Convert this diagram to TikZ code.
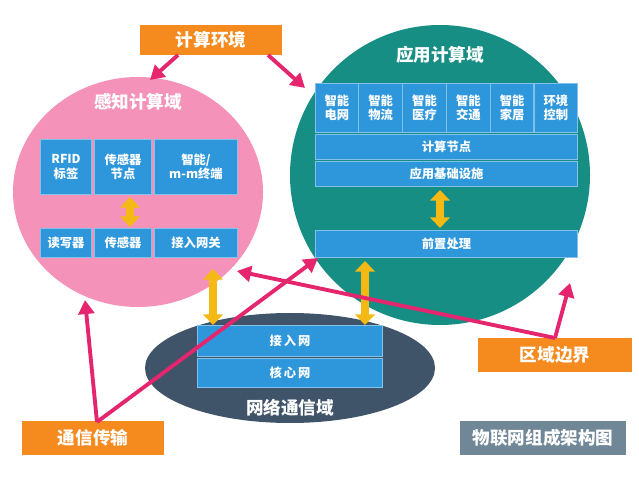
\documentclass[tikz,border=0pt]{standalone}
\usepackage{fontspec}
\setmainfont{Noto Sans CJK SC}
\usetikzlibrary{arrows.meta}
\definecolor{pinkc}{HTML}{F492B9}
\definecolor{tealc}{HTML}{178E84}
\definecolor{slatec}{HTML}{3F5369}
\definecolor{bluec}{HTML}{2E97DB}
\definecolor{orangec}{HTML}{F58A1F}
\definecolor{grayc}{HTML}{6F8796}
\definecolor{arrowc}{HTML}{E5266E}
\definecolor{yellowc}{HTML}{F5B915}
\tikzset{
 wd/.style={minimum width=#1*0.5669pt},
 ht/.style={minimum height=#1*0.5669pt},
 bx/.style={draw=bluec!60!white, line width=0.6pt, fill=bluec, text=white, font=\bfseries\fontsize{7}{8}\selectfont, align=center, inner sep=0pt},
 lbl/.style={fill=orangec, text=white, font=\bfseries\fontsize{10}{12}\selectfont, inner sep=0pt},
 title/.style={text=white, font=\bfseries\fontsize{10}{12}\selectfont},
 parr/.style={draw=arrowc, line width=2.2pt, -{Triangle[length=8pt,width=9pt]}},
 yarr/.style={draw=yellowc, line width=4pt, {Triangle[length=6pt,width=11pt]}-{Triangle[length=6pt,width=11pt]}}
}
\begin{document}
\begin{tikzpicture}[x=0.02cm,y=-0.02cm]
\useasboundingbox (0,0) rectangle (639,479);
\fill[white] (0,0) rectangle (639,479);
\fill[pinkc] (138,192) ellipse (125 and 115);
\fill[tealc] (440,175) ellipse (150 and 150);
\fill[slatec] (290,368) ellipse (145 and 55);
\node[title] (t1) at (138,102) {感知计算域};
\node[title] (t2) at (440,55) {应用计算域};
\node[title] (t3) at (290,408) {网络通信域};
% left boxes
\node[bx, wd=52, ht=55] (rfid) at (66,167) {RFID\\标签};
\node[bx, wd=57, ht=55] (sn) at (123,167) {传感器\\节点};
\node[bx, wd=83, ht=55] (mm) at (196,167) {智能/\\m-m终端};
\node[bx, wd=52, ht=30] (rw) at (66,243) {读写器};
\node[bx, wd=57, ht=30] (cg) at (123,243) {传感器};
\node[bx, wd=83, ht=30] (gw) at (196,243) {接入网关};
% right boxes
\foreach \t [count=\i] in {智能\\电网,智能\\物流,智能\\医疗,智能\\交通,智能\\家居,环境\\控制}{
 \node[bx, wd=43.8, ht=50] (a\i) at ({315+21.9+(\i-1)*43.8},108) {\t};
}
\node[bx, wd=263, ht=26] (calc) at (446.5,147) {计算节点};
\node[bx, wd=263, ht=26] (infra) at (446.5,174) {应用基础设施};
\node[bx, wd=263, ht=28] (pre) at (446.5,244) {前置处理};
% network
\node[bx, wd=185, ht=32] (acc) at (290,341) {接\,入\,网};
\node[bx, wd=185, ht=30] (core) at (290,373) {核\,心\,网};
% yellow arrows
\draw[yarr] (130,197) -- (130,227);
\draw[yarr] (440,190) -- (440,228);
\draw[yarr] (213,269) -- (213,325);
\draw[yarr] (365,261) -- (365,325);
% labels
\node[lbl, wd=143, ht=30] (env) at (211,40) {计算环境};
\node[lbl, wd=154, ht=34] (bd) at (555,355) {区域边界};
\node[lbl, wd=143, ht=35] (comm) at (93,438) {通信传输};
\node[fill=grayc, text=white, font=\bfseries\fontsize{10}{12}\selectfont, inner sep=0pt, wd=167, ht=35] (cap) at (543,438) {物联网组成架构图};
% pink arrows
\coordinate (e1) at (178,55);
\coordinate (e2) at (268,55);
\coordinate (c1) at (150,80);
\coordinate (c2) at (305,88);
\coordinate (c3) at (237,271);
\coordinate (c4) at (570,283);
\coordinate (c5) at (85,300);
\coordinate (c6) at (318,258);
\coordinate (b0) at (555,338);
\coordinate (m0) at (97,422);
\draw[parr] (e1) -- (c1);
\draw[parr] (e2) -- (c2);
\draw[parr] (b0) -- (c3);
\draw[parr] (b0) -- (c4);
\draw[parr] (m0) -- (c5);
\draw[parr] (m0) -- (c6);
\end{tikzpicture}
\end{document}
